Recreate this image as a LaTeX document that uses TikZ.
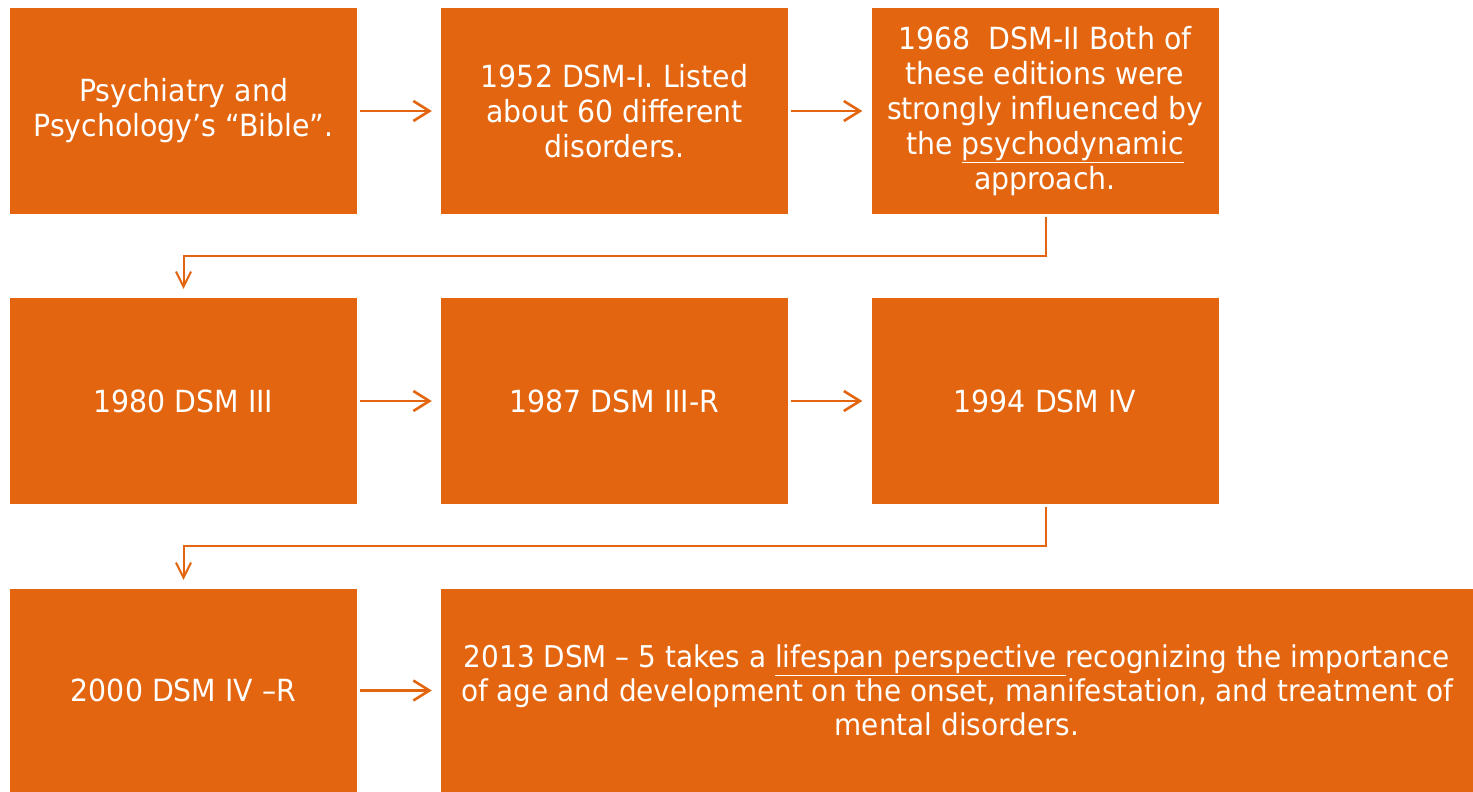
\documentclass[tikz,border=0pt]{standalone}
\usepackage{fontspec}
\setmainfont{DejaVu Sans}[FakeStretch=0.93]
\usetikzlibrary{arrows.meta}
\definecolor{dsmorange}{HTML}{E3650F}
\begin{document}
\begin{tikzpicture}[x=1pt,y=-1pt,
  box/.style={fill=dsmorange, draw=none, text=white, align=center,
    font=\fontsize{30.5}{35}\selectfont, inner sep=0pt,
    minimum width=347pt, minimum height=206pt},
  link/.style={draw=dsmorange, line width=2.6pt,
    -{Straight Barb[length=16pt,width=20pt,line width=2.6pt]}},
  elbow/.style={draw=dsmorange, line width=2pt,
    -{Straight Barb[length=15pt,width=15pt,line width=2pt]}}]
\useasboundingbox (0,0) rectangle (1473,792);
\node[box] (b1) at (183.5,111) {Psychiatry and\\Psychology’s “Bible”.};
\node[box] (b2) at (614.5,111) {1952 DSM-I. Listed\\about 60 different\\disorders.};
\node[box] (b3) at (1045,111) {1968\ \ DSM-II Both of\\these editions were\\strongly influenced by\\the \underline{psychodynamic}\\approach.};
\node[box] (b4) at (183.5,401) {1980 DSM III};
\node[box] (b5) at (614.5,401) {1987 DSM III-R};
\node[box] (b6) at (1045,401) {1994 DSM IV};
\node[box, minimum height=203pt] (b7) at (183.5,690.5) {2000 DSM IV –R};
\node[box, minimum width=1032pt, minimum height=203pt,
  font=\fontsize{30}{34}\selectfont] (b8) at (957,690.5)
  {2013 DSM – 5 takes a \underline{lifespan perspective\ }recognizing the importance\\of age and development on the onset, manifestation, and treatment of\\mental disorders.};
\draw[link] ([xshift=3pt]b1.east) -- ([xshift=-9pt]b2.west);
\draw[link] ([xshift=3pt]b2.east) -- ([xshift=-9pt]b3.west);
\draw[link] ([xshift=3pt]b4.east) -- ([xshift=-9pt]b5.west);
\draw[link] ([xshift=3pt]b5.east) -- ([xshift=-9pt]b6.west);
\draw[link] ([xshift=3pt]b7.east) -- ([xshift=-9pt]b8.west);
\draw[elbow] ([xshift=1pt,yshift=-3pt]b3.south) -- ++(0,39) -| ([yshift=9pt]b4.north);
\draw[elbow] ([xshift=1pt,yshift=-3pt]b6.south) -- ++(0,39) -| ([yshift=9pt]b7.north);
\end{tikzpicture}
\end{document}
